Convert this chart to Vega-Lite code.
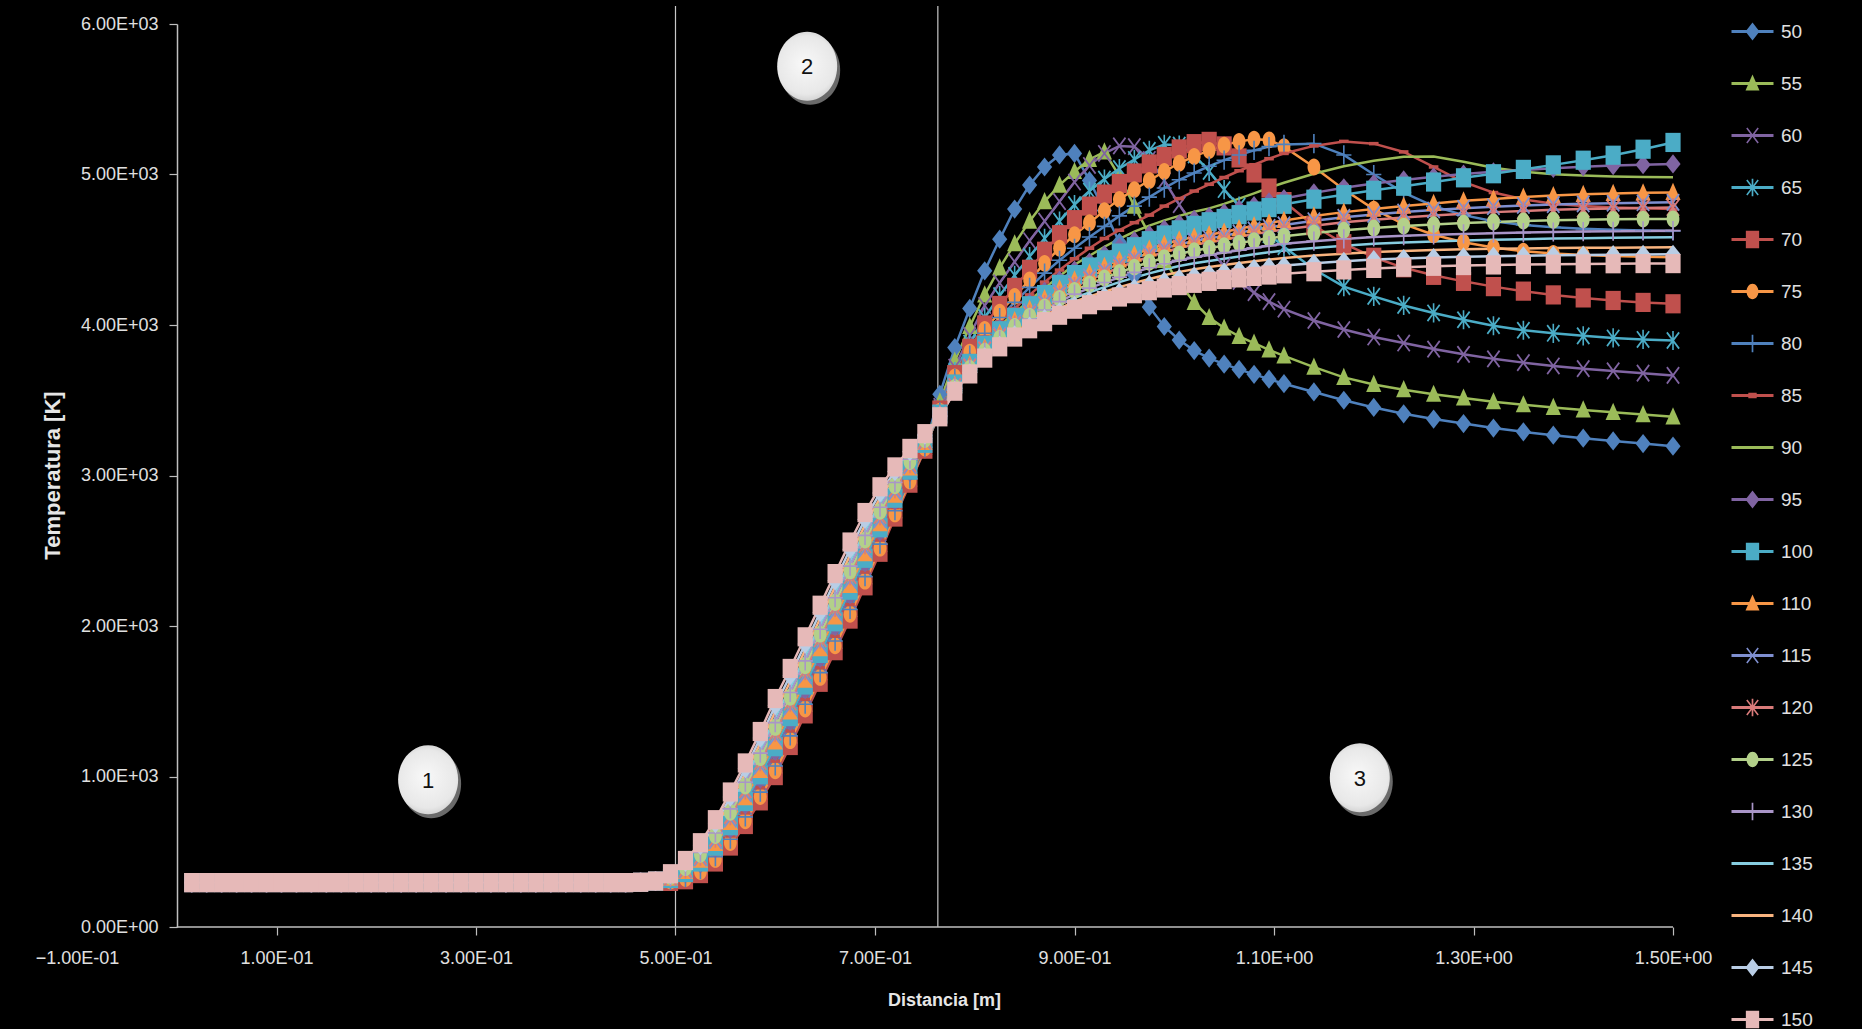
{
"$schema": "https://vega.github.io/schema/vega-lite/v6.json",
"width": 1596, "height": 903,
"autosize": {"type": "none"},
"padding": {"left": 77, "top": 24, "right": 189, "bottom": 102},
"background": "#000000",
"config": {
  "view": {"stroke": null},
  "axis": {"labelFont": "Liberation Sans Narrow, Liberation Sans, sans-serif", "titleFont": "Liberation Sans Narrow, Liberation Sans, sans-serif"},
  "legend": {"labelFont": "Liberation Sans Narrow, Liberation Sans, sans-serif"}
},
"datasets": {
"curves": [
{"x":0.015,"050":295,"055":295,"060":295,"065":295,"070":295,"075":295,"080":295,"085":295,"090":295,"095":295,"100":295,"110":295,"115":295,"120":295,"125":295,"130":295,"135":295,"140":295,"145":295,"150":295},
{"x":0.03,"050":295,"055":295,"060":295,"065":295,"070":295,"075":295,"080":295,"085":295,"090":295,"095":295,"100":295,"110":295,"115":295,"120":295,"125":295,"130":295,"135":295,"140":295,"145":295,"150":295},
{"x":0.045,"050":295,"055":295,"060":295,"065":295,"070":295,"075":295,"080":295,"085":295,"090":295,"095":295,"100":295,"110":295,"115":295,"120":295,"125":295,"130":295,"135":295,"140":295,"145":295,"150":295},
{"x":0.06,"050":295,"055":295,"060":295,"065":295,"070":295,"075":295,"080":295,"085":295,"090":295,"095":295,"100":295,"110":295,"115":295,"120":295,"125":295,"130":295,"135":295,"140":295,"145":295,"150":295},
{"x":0.075,"050":295,"055":295,"060":295,"065":295,"070":295,"075":295,"080":295,"085":295,"090":295,"095":295,"100":295,"110":295,"115":295,"120":295,"125":295,"130":295,"135":295,"140":295,"145":295,"150":295},
{"x":0.09,"050":295,"055":295,"060":295,"065":295,"070":295,"075":295,"080":295,"085":295,"090":295,"095":295,"100":295,"110":295,"115":295,"120":295,"125":295,"130":295,"135":295,"140":295,"145":295,"150":295},
{"x":0.105,"050":295,"055":295,"060":295,"065":295,"070":295,"075":295,"080":295,"085":295,"090":295,"095":295,"100":295,"110":295,"115":295,"120":295,"125":295,"130":295,"135":295,"140":295,"145":295,"150":295},
{"x":0.12,"050":295,"055":295,"060":295,"065":295,"070":295,"075":295,"080":295,"085":295,"090":295,"095":295,"100":295,"110":295,"115":295,"120":295,"125":295,"130":295,"135":295,"140":295,"145":295,"150":295},
{"x":0.135,"050":295,"055":295,"060":295,"065":295,"070":295,"075":295,"080":295,"085":295,"090":295,"095":295,"100":295,"110":295,"115":295,"120":295,"125":295,"130":295,"135":295,"140":295,"145":295,"150":295},
{"x":0.15,"050":295,"055":295,"060":295,"065":295,"070":295,"075":295,"080":295,"085":295,"090":295,"095":295,"100":295,"110":295,"115":295,"120":295,"125":295,"130":295,"135":295,"140":295,"145":295,"150":295},
{"x":0.165,"050":295,"055":295,"060":295,"065":295,"070":295,"075":295,"080":295,"085":295,"090":295,"095":295,"100":295,"110":295,"115":295,"120":295,"125":295,"130":295,"135":295,"140":295,"145":295,"150":295},
{"x":0.18,"050":295,"055":295,"060":295,"065":295,"070":295,"075":295,"080":295,"085":295,"090":295,"095":295,"100":295,"110":295,"115":295,"120":295,"125":295,"130":295,"135":295,"140":295,"145":295,"150":295},
{"x":0.195,"050":295,"055":295,"060":295,"065":295,"070":295,"075":295,"080":295,"085":295,"090":295,"095":295,"100":295,"110":295,"115":295,"120":295,"125":295,"130":295,"135":295,"140":295,"145":295,"150":295},
{"x":0.21,"050":295,"055":295,"060":295,"065":295,"070":295,"075":295,"080":295,"085":295,"090":295,"095":295,"100":295,"110":295,"115":295,"120":295,"125":295,"130":295,"135":295,"140":295,"145":295,"150":295},
{"x":0.225,"050":295,"055":295,"060":295,"065":295,"070":295,"075":295,"080":295,"085":295,"090":295,"095":295,"100":295,"110":295,"115":295,"120":295,"125":295,"130":295,"135":295,"140":295,"145":295,"150":295},
{"x":0.24,"050":295,"055":295,"060":295,"065":295,"070":295,"075":295,"080":295,"085":295,"090":295,"095":295,"100":295,"110":295,"115":295,"120":295,"125":295,"130":295,"135":295,"140":295,"145":295,"150":295},
{"x":0.255,"050":295,"055":295,"060":295,"065":295,"070":295,"075":295,"080":295,"085":295,"090":295,"095":295,"100":295,"110":295,"115":295,"120":295,"125":295,"130":295,"135":295,"140":295,"145":295,"150":295},
{"x":0.27,"050":295,"055":295,"060":295,"065":295,"070":295,"075":295,"080":295,"085":295,"090":295,"095":295,"100":295,"110":295,"115":295,"120":295,"125":295,"130":295,"135":295,"140":295,"145":295,"150":295},
{"x":0.285,"050":295,"055":295,"060":295,"065":295,"070":295,"075":295,"080":295,"085":295,"090":295,"095":295,"100":295,"110":295,"115":295,"120":295,"125":295,"130":295,"135":295,"140":295,"145":295,"150":295},
{"x":0.3,"050":295,"055":295,"060":295,"065":295,"070":295,"075":295,"080":295,"085":295,"090":295,"095":295,"100":295,"110":295,"115":295,"120":295,"125":295,"130":295,"135":295,"140":295,"145":295,"150":295},
{"x":0.315,"050":295,"055":295,"060":295,"065":295,"070":295,"075":295,"080":295,"085":295,"090":295,"095":295,"100":295,"110":295,"115":295,"120":295,"125":295,"130":295,"135":295,"140":295,"145":295,"150":295},
{"x":0.33,"050":295,"055":295,"060":295,"065":295,"070":295,"075":295,"080":295,"085":295,"090":295,"095":295,"100":295,"110":295,"115":295,"120":295,"125":295,"130":295,"135":295,"140":295,"145":295,"150":295},
{"x":0.345,"050":295,"055":295,"060":295,"065":295,"070":295,"075":295,"080":295,"085":295,"090":295,"095":295,"100":295,"110":295,"115":295,"120":295,"125":295,"130":295,"135":295,"140":295,"145":295,"150":295},
{"x":0.36,"050":295,"055":295,"060":295,"065":295,"070":295,"075":295,"080":295,"085":295,"090":295,"095":295,"100":295,"110":295,"115":295,"120":295,"125":295,"130":295,"135":295,"140":295,"145":295,"150":295},
{"x":0.375,"050":295,"055":295,"060":295,"065":295,"070":295,"075":295,"080":295,"085":295,"090":295,"095":295,"100":295,"110":295,"115":295,"120":295,"125":295,"130":295,"135":295,"140":295,"145":295,"150":295},
{"x":0.39,"050":295,"055":295,"060":295,"065":295,"070":295,"075":295,"080":295,"085":295,"090":295,"095":295,"100":295,"110":295,"115":295,"120":295,"125":295,"130":295,"135":295,"140":295,"145":295,"150":295},
{"x":0.405,"050":295,"055":295,"060":295,"065":295,"070":295,"075":295,"080":295,"085":295,"090":295,"095":295,"100":295,"110":295,"115":295,"120":295,"125":295,"130":295,"135":295,"140":295,"145":295,"150":295},
{"x":0.42,"050":295,"055":295,"060":295,"065":295,"070":295,"075":295,"080":295,"085":295,"090":295,"095":295,"100":295,"110":295,"115":295,"120":295,"125":295,"130":295,"135":295,"140":295,"145":295,"150":295},
{"x":0.435,"050":295,"055":295,"060":295,"065":295,"070":295,"075":295,"080":295,"085":295,"090":295,"095":295,"100":295,"110":295,"115":295,"120":295,"125":295,"130":295,"135":295,"140":295,"145":295,"150":295},
{"x":0.45,"050":295,"055":295,"060":295,"065":295,"070":295,"075":295,"080":295,"085":295,"090":295,"095":295,"100":295,"110":295,"115":295,"120":295,"125":295,"130":295,"135":295,"140":295,"145":295,"150":295},
{"x":0.465,"050":297,"055":297,"060":297,"065":297,"070":297,"075":297,"080":297,"085":297,"090":297,"095":297,"100":297,"110":297,"115":297,"120":297,"125":297,"130":297,"135":297,"140":297,"145":297,"150":297},
{"x":0.48,"050":305,"055":305,"060":305,"065":305,"070":305,"075":305,"080":305,"085":305,"090":305,"095":305,"100":305,"110":305,"115":305,"120":305,"125":305,"130":305,"135":305,"140":305,"145":305,"150":305},
{"x":0.495,"050":309,"055":309,"060":306,"065":304,"070":303,"075":306,"080":309,"085":312,"090":315,"095":319,"100":322,"110":325,"115":328,"120":331,"125":335,"130":338,"135":341,"140":345,"145":349,"150":354},
{"x":0.51,"050":330,"055":330,"060":322,"065":318,"070":314,"075":322,"080":330,"085":338,"090":346,"095":354,"100":362,"110":370,"115":378,"120":386,"125":394,"130":402,"135":410,"140":420,"145":430,"150":442},
{"x":0.525,"050":381,"055":381,"060":368,"065":362,"070":355,"075":368,"080":381,"085":394,"090":407,"095":419,"100":432,"110":445,"115":458,"120":471,"125":483,"130":496,"135":509,"140":525,"145":541,"150":560},
{"x":0.54,"050":467,"055":467,"060":449,"065":441,"070":432,"075":449,"080":467,"085":485,"090":502,"095":520,"100":537,"110":555,"115":573,"120":590,"125":608,"130":625,"135":643,"140":665,"145":687,"150":713},
{"x":0.555,"050":583,"055":583,"060":561,"065":549,"070":538,"075":561,"080":583,"085":605,"090":628,"095":650,"100":673,"110":695,"115":717,"120":740,"125":762,"130":785,"135":807,"140":835,"145":863,"150":897},
{"x":0.57,"050":732,"055":732,"060":706,"065":694,"070":681,"075":706,"080":732,"085":758,"090":783,"095":809,"100":834,"110":860,"115":886,"120":911,"125":937,"130":962,"135":988,"140":1020,"145":1052,"150":1090},
{"x":0.585,"050":896,"055":896,"060":867,"065":853,"070":838,"075":867,"080":896,"085":925,"090":954,"095":982,"100":1011,"110":1040,"115":1069,"120":1098,"125":1126,"130":1155,"135":1184,"140":1220,"145":1256,"150":1299},
{"x":0.6,"050":1070,"055":1070,"060":1038,"065":1022,"070":1006,"075":1038,"080":1070,"085":1102,"090":1134,"095":1166,"100":1198,"110":1230,"115":1262,"120":1294,"125":1326,"130":1358,"135":1390,"140":1430,"145":1470,"150":1518},
{"x":0.615,"050":1270,"055":1270,"060":1238,"065":1222,"070":1206,"075":1238,"080":1270,"085":1302,"090":1334,"095":1366,"100":1398,"110":1430,"115":1462,"120":1494,"125":1526,"130":1558,"135":1590,"140":1630,"145":1670,"150":1718},
{"x":0.63,"050":1480,"055":1480,"060":1448,"065":1432,"070":1416,"075":1448,"080":1480,"085":1512,"090":1544,"095":1576,"100":1608,"110":1640,"115":1672,"120":1704,"125":1736,"130":1768,"135":1800,"140":1840,"145":1880,"150":1928},
{"x":0.645,"050":1690,"055":1690,"060":1658,"065":1642,"070":1626,"075":1658,"080":1690,"085":1722,"090":1754,"095":1786,"100":1818,"110":1850,"115":1882,"120":1914,"125":1946,"130":1978,"135":2010,"140":2050,"145":2090,"150":2138},
{"x":0.66,"050":1900,"055":1900,"060":1868,"065":1852,"070":1836,"075":1868,"080":1900,"085":1932,"090":1964,"095":1996,"100":2028,"110":2060,"115":2092,"120":2124,"125":2156,"130":2188,"135":2220,"140":2260,"145":2300,"150":2348},
{"x":0.675,"050":2110,"055":2110,"060":2078,"065":2062,"070":2046,"075":2078,"080":2110,"085":2142,"090":2174,"095":2206,"100":2238,"110":2270,"115":2302,"120":2334,"125":2366,"130":2398,"135":2430,"140":2470,"145":2510,"150":2558},
{"x":0.69,"050":2328,"055":2328,"060":2298,"065":2282,"070":2267,"075":2298,"080":2328,"085":2358,"090":2389,"095":2419,"100":2450,"110":2480,"115":2510,"120":2541,"125":2571,"130":2602,"135":2632,"140":2670,"145":2708,"150":2754},
{"x":0.705,"050":2544,"055":2544,"060":2517,"065":2503,"070":2490,"075":2517,"080":2544,"085":2571,"090":2598,"095":2626,"100":2653,"110":2680,"115":2707,"120":2734,"125":2762,"130":2789,"135":2816,"140":2850,"145":2884,"150":2925},
{"x":0.72,"050":2766,"055":2766,"060":2745,"065":2735,"070":2724,"075":2745,"080":2766,"085":2787,"090":2808,"095":2828,"100":2849,"110":2870,"115":2891,"120":2912,"125":2932,"130":2953,"135":2974,"140":3000,"145":3026,"150":3057},
{"x":0.735,"050":2978,"055":2978,"060":2964,"065":2956,"070":2949,"075":2964,"080":2978,"085":2992,"090":3007,"095":3021,"100":3036,"110":3050,"115":3064,"120":3079,"125":3093,"130":3108,"135":3122,"140":3140,"145":3158,"150":3180},
{"x":0.75,"050":3188,"055":3188,"060":3182,"065":3178,"070":3175,"075":3182,"080":3188,"085":3194,"090":3201,"095":3207,"100":3214,"110":3220,"115":3226,"120":3233,"125":3239,"130":3246,"135":3252,"140":3260,"145":3268,"150":3278},
{"x":0.765,"050":3540,"055":3490,"060":3460,"065":3445,"070":3435,"075":3428,"080":3422,"085":3418,"090":3414,"095":3411,"100":3408,"110":3405,"115":3403,"120":3401,"125":3399,"130":3397,"135":3395,"140":3393,"145":3391,"150":3390},
{"x":0.78,"050":3850,"055":3760,"060":3720,"065":3690,"070":3670,"075":3655,"080":3645,"085":3635,"090":3625,"095":3615,"100":3608,"110":3600,"115":3595,"120":3590,"125":3585,"130":3580,"135":3575,"140":3570,"145":3565,"150":3560},
{"x":0.795,"050":4110,"055":3990,"060":3930,"065":3880,"070":3845,"075":3820,"080":3800,"085":3785,"090":3770,"095":3755,"100":3745,"110":3735,"115":3728,"120":3720,"125":3712,"130":3705,"135":3698,"140":3690,"145":3682,"150":3675},
{"x":0.81,"050":4360,"055":4200,"060":4130,"065":4050,"070":4000,"075":3970,"080":3945,"085":3920,"090":3900,"095":3880,"100":3865,"110":3850,"115":3842,"120":3834,"125":3826,"130":3818,"135":3810,"140":3800,"145":3790,"150":3780},
{"x":0.825,"050":4570,"055":4380,"060":4280,"065":4195,"070":4130,"075":4085,"080":4050,"085":4020,"090":3995,"095":3978,"100":3962,"110":3945,"115":3933,"120":3922,"125":3912,"130":3900,"135":3890,"140":3878,"145":3865,"150":3855},
{"x":0.84,"050":4770,"055":4540,"060":4420,"065":4330,"070":4250,"075":4190,"080":4150,"085":4110,"090":4080,"095":4065,"100":4050,"110":4030,"115":4015,"120":4000,"125":3990,"130":3975,"135":3962,"140":3950,"145":3935,"150":3920},
{"x":0.855,"050":4930,"055":4690,"060":4560,"065":4455,"070":4370,"075":4300,"080":4250,"085":4200,"090":4165,"095":4145,"100":4128,"110":4105,"115":4088,"120":4070,"125":4058,"130":4040,"135":4025,"140":4010,"145":3993,"150":3975},
{"x":0.87,"050":5050,"055":4820,"060":4690,"065":4575,"070":4490,"075":4410,"080":4345,"085":4285,"090":4245,"095":4225,"100":4202,"110":4175,"115":4155,"120":4135,"125":4120,"130":4100,"135":4082,"140":4063,"145":4043,"150":4022},
{"x":0.885,"050":5130,"055":4930,"060":4820,"065":4690,"070":4600,"075":4510,"080":4430,"085":4365,"090":4325,"095":4298,"100":4270,"110":4240,"115":4218,"120":4197,"125":4177,"130":4155,"135":4133,"140":4111,"145":4088,"150":4065},
{"x":0.9,"050":5140,"055":5020,"060":4950,"065":4800,"070":4700,"075":4600,"080":4510,"085":4440,"090":4400,"095":4365,"100":4335,"110":4300,"115":4275,"120":4255,"125":4230,"130":4205,"135":4180,"140":4155,"145":4130,"150":4105},
{"x":0.915,"050":4960,"055":5100,"060":5060,"065":4890,"070":4790,"075":4680,"080":4585,"085":4510,"090":4460,"095":4418,"100":4385,"110":4345,"115":4320,"120":4300,"125":4273,"130":4245,"135":4217,"140":4190,"145":4162,"150":4135},
{"x":0.93,"050":4760,"055":5150,"060":5140,"065":4970,"070":4870,"075":4760,"080":4655,"085":4575,"090":4520,"095":4468,"100":4433,"110":4390,"115":4365,"120":4342,"125":4313,"130":4282,"135":4252,"140":4222,"145":4192,"150":4162},
{"x":0.945,"050":4550,"055":4990,"060":5190,"065":5040,"070":4940,"075":4835,"080":4725,"085":4630,"090":4572,"095":4515,"100":4478,"110":4432,"115":4406,"120":4382,"125":4350,"130":4317,"135":4285,"140":4252,"145":4220,"150":4186},
{"x":0.96,"050":4330,"055":4790,"060":5185,"065":5100,"070":5010,"075":4900,"080":4790,"085":4680,"090":4620,"095":4560,"100":4520,"110":4470,"115":4445,"120":4420,"125":4385,"130":4350,"135":4315,"140":4280,"145":4245,"150":4208},
{"x":0.975,"050":4120,"055":4600,"060":5100,"065":5160,"070":5070,"075":4960,"080":4850,"085":4730,"090":4660,"095":4600,"100":4560,"110":4505,"115":4478,"120":4453,"125":4417,"130":4380,"135":4343,"140":4306,"145":4269,"150":4228},
{"x":0.99,"050":3990,"055":4430,"060":4960,"065":5200,"070":5120,"075":5020,"080":4910,"085":4790,"090":4695,"095":4638,"100":4598,"110":4537,"115":4510,"120":4485,"125":4447,"130":4407,"135":4369,"140":4331,"145":4291,"150":4246},
{"x":1.005,"050":3900,"055":4280,"060":4800,"065":5195,"070":5170,"075":5075,"080":4965,"085":4840,"090":4725,"095":4672,"100":4632,"110":4565,"115":4537,"120":4512,"125":4473,"130":4430,"135":4392,"140":4353,"145":4310,"150":4262},
{"x":1.02,"050":3830,"055":4150,"060":4650,"065":5130,"070":5205,"075":5120,"080":5010,"085":4890,"090":4752,"095":4702,"100":4662,"110":4585,"115":4558,"120":4533,"125":4494,"130":4450,"135":4410,"140":4371,"145":4326,"150":4277},
{"x":1.035,"050":3780,"055":4050,"060":4510,"065":5020,"070":5220,"075":5160,"080":5055,"085":4935,"090":4775,"095":4722,"100":4686,"110":4600,"115":4575,"120":4550,"125":4511,"130":4465,"135":4425,"140":4386,"145":4340,"150":4290},
{"x":1.05,"050":3740,"055":3980,"060":4390,"065":4900,"070":5190,"075":5195,"080":5095,"085":4980,"090":4805,"095":4745,"100":4708,"110":4618,"115":4593,"120":4567,"125":4527,"130":4481,"135":4440,"140":4399,"145":4353,"150":4302},
{"x":1.065,"050":3705,"055":3925,"060":4290,"065":4790,"070":5110,"075":5220,"080":5130,"085":5025,"090":4840,"095":4770,"100":4733,"110":4640,"115":4613,"120":4586,"125":4544,"130":4497,"135":4455,"140":4412,"145":4365,"150":4313},
{"x":1.08,"050":3672,"055":3880,"060":4215,"065":4690,"070":5010,"075":5235,"080":5160,"085":5065,"090":4875,"095":4793,"100":4757,"110":4660,"115":4632,"120":4604,"125":4561,"130":4513,"135":4470,"140":4424,"145":4376,"150":4323},
{"x":1.095,"050":3640,"055":3835,"060":4155,"065":4600,"070":4910,"075":5230,"080":5185,"085":5105,"090":4912,"095":4818,"100":4780,"110":4678,"115":4649,"120":4620,"125":4576,"130":4527,"135":4483,"140":4435,"145":4386,"150":4332},
{"x":1.11,"050":3610,"055":3795,"060":4105,"065":4520,"070":4820,"075":5185,"080":5200,"085":5140,"090":4945,"095":4840,"100":4802,"110":4695,"115":4665,"120":4635,"125":4590,"130":4540,"135":4495,"140":4445,"145":4395,"150":4340},
{"x":1.14,"050":3555,"055":3720,"060":4030,"065":4370,"070":4660,"075":5050,"080":5205,"085":5190,"090":5005,"095":4878,"100":4836,"110":4725,"115":4693,"120":4660,"125":4612,"130":4557,"135":4512,"140":4461,"145":4410,"150":4354},
{"x":1.17,"050":3500,"055":3652,"060":3970,"065":4255,"070":4540,"075":4900,"080":5130,"085":5220,"090":5055,"095":4912,"100":4866,"110":4750,"115":4716,"120":4682,"125":4630,"130":4572,"135":4527,"140":4474,"145":4423,"150":4366},
{"x":1.2,"050":3452,"055":3605,"060":3920,"065":4190,"070":4450,"075":4770,"080":5000,"085":5205,"090":5092,"095":4940,"100":4895,"110":4770,"115":4735,"120":4700,"125":4645,"130":4585,"135":4540,"140":4485,"145":4435,"150":4376},
{"x":1.23,"050":3410,"055":3570,"060":3880,"065":4130,"070":4380,"075":4670,"080":4880,"085":5150,"090":5118,"095":4964,"100":4922,"110":4790,"115":4751,"120":4715,"125":4657,"130":4593,"135":4548,"140":4492,"145":4442,"150":4384},
{"x":1.26,"050":3375,"055":3540,"060":3840,"065":4080,"070":4330,"075":4600,"080":4790,"085":5050,"090":5120,"095":4985,"100":4950,"110":4808,"115":4764,"120":4728,"125":4667,"130":4599,"135":4555,"140":4498,"145":4448,"150":4390},
{"x":1.29,"050":3345,"055":3515,"060":3805,"065":4035,"070":4290,"075":4550,"080":4730,"085":4950,"090":5085,"095":5003,"100":4978,"110":4825,"115":4776,"120":4740,"125":4677,"130":4605,"135":4561,"140":4503,"145":4453,"150":4395},
{"x":1.32,"050":3315,"055":3490,"060":3775,"065":3995,"070":4255,"075":4515,"080":4690,"085":4880,"090":5045,"095":5018,"100":5005,"110":4838,"115":4786,"120":4750,"125":4685,"130":4610,"135":4566,"140":4507,"145":4457,"150":4399},
{"x":1.35,"050":3290,"055":3470,"060":3750,"065":3965,"070":4225,"075":4490,"080":4665,"085":4835,"090":5018,"095":5030,"100":5034,"110":4850,"115":4794,"120":4758,"125":4691,"130":4614,"135":4570,"140":4509,"145":4460,"150":4402},
{"x":1.38,"050":3268,"055":3452,"060":3728,"065":3945,"070":4200,"075":4475,"080":4650,"085":4805,"090":5002,"095":5041,"100":5064,"110":4860,"115":4800,"120":4765,"125":4696,"130":4618,"135":4574,"140":4511,"145":4463,"150":4404},
{"x":1.41,"050":3248,"055":3436,"060":3710,"065":3928,"070":4180,"075":4465,"080":4640,"085":4790,"090":4993,"095":5051,"100":5095,"110":4868,"115":4805,"120":4770,"125":4699,"130":4621,"135":4577,"140":4513,"145":4465,"150":4406},
{"x":1.44,"050":3230,"055":3420,"060":3695,"065":3914,"070":4163,"075":4458,"080":4633,"085":4780,"090":4987,"095":5059,"100":5128,"110":4874,"115":4809,"120":4774,"125":4702,"130":4623,"135":4580,"140":4514,"145":4467,"150":4407},
{"x":1.47,"050":3212,"055":3405,"060":3680,"065":3904,"070":4150,"075":4453,"080":4628,"085":4775,"090":4983,"095":5065,"100":5168,"110":4878,"115":4812,"120":4777,"125":4704,"130":4625,"135":4582,"140":4515,"145":4469,"150":4408},
{"x":1.5,"050":3195,"055":3390,"060":3665,"065":3897,"070":4141,"075":4450,"080":4625,"085":4770,"090":4981,"095":5070,"100":5213,"110":4881,"115":4815,"120":4780,"125":4705,"130":4627,"135":4583,"140":4516,"145":4470,"150":4408}
],
"vlines": [{"x": 0.5}, {"x": 0.763}],
"baseline": [{"a": 0, "b": 1.5}],
"notes": [{"x": 0.252, "T": 978, "n": "1"}, {"x": 0.632, "T": 5720, "n": "2"}, {"x": 1.186, "T": 992, "n": "3"}]
},
"layer": [
{
  "data": {"name": "vlines"},
  "mark": {"type": "rule", "color": "#c8c8c8", "strokeWidth": 1.2},
  "encoding": {
    "x": {"field": "x", "type": "quantitative", "scale": {"domain": [-0.1, 1.5], "nice": false, "zero": false}},
    "y": {"datum": 0, "type": "quantitative", "scale": {"domain": [0, 6000], "nice": false}},
    "y2": {"datum": 6120}
  }
},
{
  "data": {"name": "baseline"},
  "mark": {"type": "rule", "color": "#bfbfbf", "strokeWidth": 1.5},
  "encoding": {
    "x": {"field": "a", "type": "quantitative", "scale": {"domain": [-0.1, 1.5], "nice": false, "zero": false}},
    "x2": {"field": "b"},
    "y": {"datum": 0, "type": "quantitative", "scale": {"domain": [0, 6000], "nice": false}}
  }
},
{
  "data": {"name": "curves"},
  "transform": [
    {"filter": "datum.x > 0.2 && datum.x < 0.22"},
    {"fold": ["050","055","060","065","070","075","080","085","090","095","100","110","115","120","125","130","135","140","145","150"], "as": ["s", "T"]}
  ],
  "mark": {"type": "point", "filled": true, "opacity": 0, "size": 196},
  "encoding": {
    "x": {"field": "x", "type": "quantitative", "scale": {"domain": [-0.1, 1.5], "nice": false, "zero": false}},
    "y": {"field": "T", "type": "quantitative", "scale": {"domain": [0, 6000], "nice": false}},
    "color": {"field": "s", "type": "nominal",
      "scale": {"domain": ["050","055","060","065","070","075","080","085","090","095","100","110","115","120","125","130","135","140","145","150"],
                "range": ["#4F81BD","#9BBB59","#8064A2","#4BACC6","#C0504D","#F79646","#4F81BD","#C0504D","#9BBB59","#8064A2","#4BACC6","#F79646","#7F8FD0","#D97B7A","#B3D08A","#A995C8","#86CDE0","#F9B47F","#B9CDE5","#E6B9B8"]},
      "legend": {"orient": "none", "legendX": 1666, "legendY": -2, "title": null, "symbolSize": 196, "symbolOpacity": 1, "symbolStrokeWidth": 0, "labelColor": "#e0e0e0", "labelFontSize": 19, "labelOffset": 19, "rowPadding": 32, "padding": 0, "labelExpr": "toString(toNumber(datum.label))"}},
    "shape": {"field": "s", "type": "nominal",
      "scale": {"domain": ["050","055","060","065","070","075","080","085","090","095","100","110","115","120","125","130","135","140","145","150"],
                "range": [
"M-3,-0.2H3V0.2H-3ZM0,-1.3L1,0L0,1.3L-1,0Z",
"M-3,-0.2H3V0.2H-3ZM0,-1.3L1,1H-1Z",
"M-3,-0.2H3V0.2H-3ZM-0.9,-1L-0.72,-1.15L0.9,1L0.72,1.15ZM0.72,-1.15L0.9,-1L-0.72,1.15L-0.9,1Z",
"M-3,-0.2H3V0.2H-3ZM-0.9,-1L-0.72,-1.15L0.9,1L0.72,1.15ZM0.72,-1.15L0.9,-1L-0.72,1.15L-0.9,1ZM-0.12,-1.25H0.12V1.25H-0.12Z",
"M-3,-0.2H3V0.2H-3ZM-0.95,-1.25H0.95V1.25H-0.95Z",
"M-3,-0.2H3V0.2H-3ZM0.85,0A0.85,1.1 0 1,1 -0.85,0A0.85,1.1 0 1,1 0.85,0Z",
"M-3,-0.2H3V0.2H-3ZM-0.12,-1.25H0.12V1.25H-0.12Z",
"M-3,-0.2H3V0.2H-3ZM-0.6,-0.4H0.6V0.4H-0.6Z",
"M-3,-0.2H3V0.2H-3Z",
"M-3,-0.2H3V0.2H-3ZM0,-1.3L1,0L0,1.3L-1,0Z",
"M-3,-0.2H3V0.2H-3ZM-0.95,-1.25H0.95V1.25H-0.95Z",
"M-3,-0.2H3V0.2H-3ZM0,-1.3L1,1H-1Z",
"M-3,-0.2H3V0.2H-3ZM-0.9,-1L-0.72,-1.15L0.9,1L0.72,1.15ZM0.72,-1.15L0.9,-1L-0.72,1.15L-0.9,1Z",
"M-3,-0.2H3V0.2H-3ZM-0.9,-1L-0.72,-1.15L0.9,1L0.72,1.15ZM0.72,-1.15L0.9,-1L-0.72,1.15L-0.9,1ZM-0.12,-1.25H0.12V1.25H-0.12Z",
"M-3,-0.2H3V0.2H-3ZM0.85,0A0.85,1.1 0 1,1 -0.85,0A0.85,1.1 0 1,1 0.85,0Z",
"M-3,-0.2H3V0.2H-3ZM-0.12,-1.25H0.12V1.25H-0.12Z",
"M-3,-0.2H3V0.2H-3Z",
"M-3,-0.2H3V0.2H-3Z",
"M-3,-0.2H3V0.2H-3ZM0,-1.3L1,0L0,1.3L-1,0Z",
"M-3,-0.2H3V0.2H-3ZM-0.95,-1.25H0.95V1.25H-0.95Z"
]},
      "legend": {"orient": "none", "legendX": 1666, "legendY": -2, "title": null, "symbolSize": 196, "symbolOpacity": 1, "symbolStrokeWidth": 0, "labelColor": "#e0e0e0", "labelFontSize": 19, "labelOffset": 19, "rowPadding": 32, "padding": 0, "labelExpr": "toString(toNumber(datum.label))"}}
  }
},
{
  "data": {"name": "curves"},
  "transform": [
    {"fold": ["050","055","060","065","070","075","080","085","090","095","100","110","115","120","125","130","135","140","145","150"], "as": ["s", "T"]}
  ],
  "mark": {"type": "line", "strokeWidth": 2.5},
  "encoding": {
    "x": {"field": "x", "type": "quantitative", "scale": {"domain": [-0.1, 1.5], "nice": false, "zero": false},
      "axis": {"values": [-0.1, 0.1, 0.3, 0.5, 0.7, 0.9, 1.1, 1.3, 1.5], "domain": false, "grid": false, "tickSize": 8, "tickColor": "#bfbfbf", "tickWidth": 1.2,
        "tickOpacity": {"condition": {"test": "datum.value < 0", "value": 0}, "value": 1},
        "labelExpr": "replace(replace(format(datum.value, '.2e'), 'e+', 'E+0'), 'e-', 'E-0')",
        "labelColor": "#e0e0e0", "labelFontSize": 18, "labelPadding": 14, "labelFlush": false, "labelOverlap": false,
        "title": "Distancia [m]", "titleColor": "#e6e6e6", "titleFontSize": 18, "titleFontWeight": "bold",
        "titleX": 867, "titleY": 73, "titleBaseline": "middle", "titleAlign": "center"}},
    "y": {"field": "T", "type": "quantitative", "scale": {"domain": [0, 6000], "nice": false},
      "axis": {"values": [0, 1000, 2000, 3000, 4000, 5000, 6000], "offset": -100, "domainColor": "#bfbfbf", "domainWidth": 1.5, "tickColor": "#bfbfbf", "tickWidth": 1.2, "tickSize": 8, "grid": false,
        "labelExpr": "replace(replace(format(datum.value, '.2e'), 'e+', 'E+0'), 'e-', 'E-0')",
        "labelColor": "#e0e0e0", "labelFontSize": 18, "labelPadding": 11,
        "title": "Temperatura [K]", "titleColor": "#e6e6e6", "titleFontSize": 22, "titleFontWeight": "bold",
        "titleX": -125, "titleY": 451, "titleAngle": -90, "titleBaseline": "middle", "titleAlign": "center"}},
    "color": {"field": "s", "type": "nominal",
      "scale": {"domain": ["050","055","060","065","070","075","080","085","090","095","100","110","115","120","125","130","135","140","145","150"],
                "range": ["#4F81BD","#9BBB59","#8064A2","#4BACC6","#C0504D","#F79646","#4F81BD","#C0504D","#9BBB59","#8064A2","#4BACC6","#F79646","#7F8FD0","#D97B7A","#B3D08A","#A995C8","#86CDE0","#F9B47F","#B9CDE5","#E6B9B8"]},
      "legend": null}
  }
},
{
  "data": {"name": "curves"},
  "transform": [
    {"fold": ["050","055","060","065","070","075","080","085","090","095","100","110","115","120","125","130","135","140","145","150"], "as": ["s", "T"]},
    {"filter": "datum.s != '090' && datum.s != '135' && datum.s != '140'"}
  ],
  "mark": {"type": "point", "filled": true, "opacity": 1, "size": 256, "strokeWidth": 0},
  "encoding": {
    "x": {"field": "x", "type": "quantitative", "scale": {"domain": [-0.1, 1.5], "nice": false, "zero": false}},
    "y": {"field": "T", "type": "quantitative", "scale": {"domain": [0, 6000], "nice": false}},
    "color": {"field": "s", "type": "nominal",
      "scale": {"domain": ["050","055","060","065","070","075","080","085","090","095","100","110","115","120","125","130","135","140","145","150"],
                "range": ["#4F81BD","#9BBB59","#8064A2","#4BACC6","#C0504D","#F79646","#4F81BD","#C0504D","#9BBB59","#8064A2","#4BACC6","#F79646","#7F8FD0","#D97B7A","#B3D08A","#A995C8","#86CDE0","#F9B47F","#B9CDE5","#E6B9B8"]},
      "legend": null},
    "shape": {"field": "s", "type": "nominal",
      "scale": {"domain": ["050","055","060","065","070","075","080","085","090","095","100","110","115","120","125","130","135","140","145","150"],
                "range": [
"M0,-1.2L0.95,0L0,1.2L-0.95,0Z",
"M0,-1.2L0.95,0.95H-0.95Z",
"M-0.85,-0.95L-0.68,-1.1L0.85,0.95L0.68,1.1ZM0.68,-1.1L0.85,-0.95L-0.68,1.1L-0.85,0.95Z",
"M-0.85,-0.95L-0.68,-1.1L0.85,0.95L0.68,1.1ZM0.68,-1.1L0.85,-0.95L-0.68,1.1L-0.85,0.95ZM-0.1,-1.2H0.1V1.2H-0.1Z",
"M-0.95,-1.2H0.95V1.2H-0.95Z",
"M0.8,0A0.8,1.05 0 1,1 -0.8,0A0.8,1.05 0 1,1 0.8,0Z",
"M-0.1,-1.2H0.1V1.2H-0.1ZM-0.95,-0.1H0.95V0.1H-0.95Z",
"M-0.6,-0.22H0.6V0.22H-0.6Z",
"M0,0Z",
"M0,-1.2L0.95,0L0,1.2L-0.95,0Z",
"M-0.95,-1.2H0.95V1.2H-0.95Z",
"M0,-1.2L0.95,0.95H-0.95Z",
"M-0.85,-0.95L-0.68,-1.1L0.85,0.95L0.68,1.1ZM0.68,-1.1L0.85,-0.95L-0.68,1.1L-0.85,0.95Z",
"M-0.85,-0.95L-0.68,-1.1L0.85,0.95L0.68,1.1ZM0.68,-1.1L0.85,-0.95L-0.68,1.1L-0.85,0.95ZM-0.1,-1.2H0.1V1.2H-0.1Z",
"M0.8,0A0.8,1.05 0 1,1 -0.8,0A0.8,1.05 0 1,1 0.8,0Z",
"M-0.1,-1.2H0.1V1.2H-0.1ZM-0.95,-0.1H0.95V0.1H-0.95Z",
"M0,0Z",
"M0,0Z",
"M0,-1.2L0.95,0L0,1.2L-0.95,0Z",
"M-0.95,-1.2H0.95V1.2H-0.95Z"
]},
      "legend": null},
    "order": {"field": "s", "type": "nominal"}
  }
},
{
  "data": {"name": "notes"},
  "mark": {"type": "point", "filled": true, "opacity": 1, "size": 3600, "color": "#6a6a6a", "xOffset": 3, "yOffset": 4,
           "shape": "M0,-1.15A1,1.15 0 1,1 0,1.15A1,1.15 0 1,1 0,-1.15Z"},
  "encoding": {
    "x": {"field": "x", "type": "quantitative", "scale": {"domain": [-0.1, 1.5], "nice": false, "zero": false}},
    "y": {"field": "T", "type": "quantitative", "scale": {"domain": [0, 6000], "nice": false}}
  }
},
{
  "data": {"name": "notes"},
  "mark": {"type": "point", "filled": true, "opacity": 1, "size": 3600,
           "color": {"gradient": "radial", "x1": 0.45, "y1": 0.45, "x2": 0.5, "y2": 0.5, "r1": 0, "r2": 0.6,
                     "stops": [{"offset": 0, "color": "#f8f8f8"}, {"offset": 0.7, "color": "#e8e8e8"}, {"offset": 1, "color": "#c0c0c0"}]},
           "shape": "M0,-1.15A1,1.15 0 1,1 0,1.15A1,1.15 0 1,1 0,-1.15Z"},
  "encoding": {
    "x": {"field": "x", "type": "quantitative", "scale": {"domain": [-0.1, 1.5], "nice": false, "zero": false}},
    "y": {"field": "T", "type": "quantitative", "scale": {"domain": [0, 6000], "nice": false}}
  }
},
{
  "data": {"name": "notes"},
  "mark": {"type": "text", "fontSize": 22, "color": "#111111", "font": "Liberation Sans", "align": "center", "baseline": "middle", "dy": 1},
  "encoding": {
    "x": {"field": "x", "type": "quantitative", "scale": {"domain": [-0.1, 1.5], "nice": false, "zero": false}},
    "y": {"field": "T", "type": "quantitative", "scale": {"domain": [0, 6000], "nice": false}},
    "text": {"field": "n"}
  }
}
],
"resolve": {"scale": {"color": "independent", "shape": "independent"}}
}
